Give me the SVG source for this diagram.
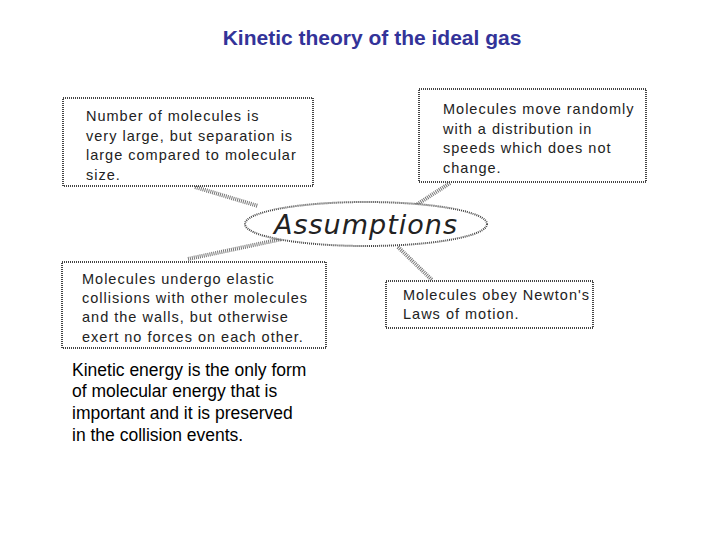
<svg xmlns="http://www.w3.org/2000/svg" width="720" height="540" viewBox="0 0 720 540">
<style>
.box{fill:#fff;stroke:#444;stroke-width:2;stroke-dasharray:1 1}
.t{font-family:"Liberation Sans",Arial,sans-serif;font-size:14.5px;fill:#222;letter-spacing:1px}
.c{stroke:#777;stroke-width:4;stroke-dasharray:1 1;fill:none}
</style>
<rect width="720" height="540" fill="#fff"/>
<text x="372" y="45" text-anchor="middle" font-family="Liberation Sans,Arial,sans-serif" font-size="21" font-weight="bold" fill="#333399">Kinetic theory of the ideal gas</text>
<g id="connectors">
<path class="c" d="M195,187 L258,206"/>
<path class="c" d="M450,183 L410,209"/>
<path class="c" d="M188,259 L282,239"/>
<path class="c" d="M398,247 L432,280"/>
</g>
<g id="assumptions">
<ellipse cx="366" cy="224" rx="121" ry="22" class="box"/>
<text x="366" y="234" text-anchor="middle" font-family="DejaVu Sans,sans-serif" font-style="italic" font-size="27" fill="#222" letter-spacing="1">Assumptions</text>
</g>
<g id="box1">
<rect x="63" y="98" width="250" height="88" class="box"/>
<text class="t" x="86" y="121">Number of molecules is</text>
<text class="t" x="86" y="141">very large, but separation is</text>
<text class="t" x="86" y="160">large compared to molecular</text>
<text class="t" x="86" y="180">size.</text>
</g>
<g id="box2">
<rect x="419" y="89" width="227" height="93" class="box"/>
<text class="t" x="443" y="114">Molecules move randomly</text>
<text class="t" x="443" y="134">with a distribution in</text>
<text class="t" x="443" y="153">speeds which does not</text>
<text class="t" x="443" y="173">change.</text>
</g>
<g id="box3">
<rect x="62" y="262" width="264" height="86" class="box"/>
<text class="t" x="82" y="284">Molecules undergo elastic</text>
<text class="t" x="82" y="303">collisions with other molecules</text>
<text class="t" x="82" y="322">and the walls, but otherwise</text>
<text class="t" x="82" y="342">exert no forces on each other.</text>
</g>
<g id="box4">
<rect x="386" y="281" width="207" height="47" class="box"/>
<text class="t" x="403" y="300">Molecules obey Newton's</text>
<text class="t" x="403" y="319">Laws of motion.</text>
</g>
<g id="note" font-family="Liberation Sans,Arial,sans-serif" font-size="17.5" fill="#000">
<text x="72" y="376">Kinetic energy is the only form</text>
<text x="72" y="397">of molecular energy that is</text>
<text x="72" y="419">important and it is preserved</text>
<text x="72" y="441">in the collision events.</text>
</g>
</svg>
